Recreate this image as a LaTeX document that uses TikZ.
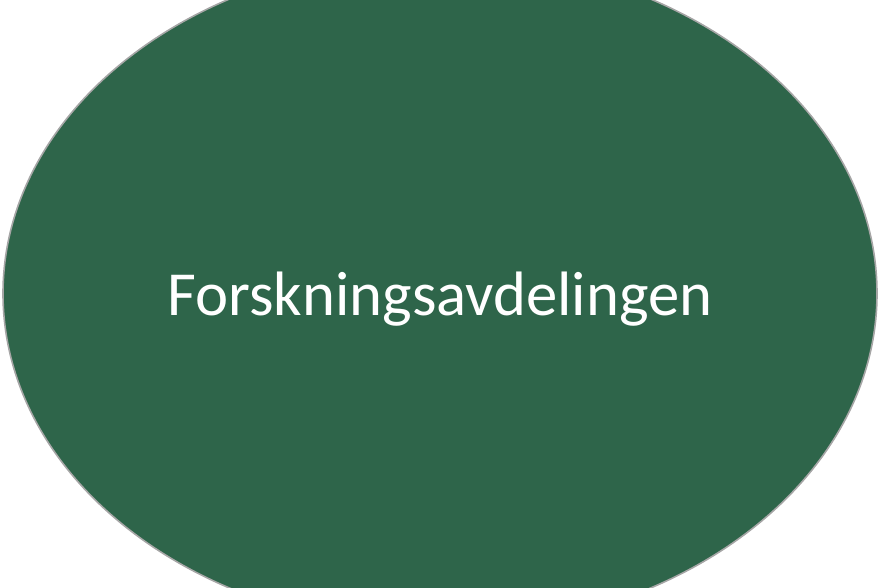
\documentclass[tikz,border=0pt]{standalone}
\usepackage{fontspec}
\setmainfont{Carlito}
\usetikzlibrary{shapes.geometric}

\definecolor{deptgreen}{HTML}{2E654A}
\definecolor{rimgrey}{HTML}{A6A6A6}

\begin{document}
\begin{tikzpicture}[x=1pt,y=1pt,
    dept/.style={draw=rimgrey, line width=1.6pt, fill=deptgreen, ellipse,
                 inner sep=0pt, text=white, font=\fontsize{62.7}{74}\selectfont}]

                \def \w {880}
                \def \h {587}

                \useasboundingbox (0,0) rectangle (\w,\h);

                \node[dept, minimum width=874pt, minimum height=672pt, text depth=0pt] at (440,293.5) (forsk) {};
                \node[text=white, font=\fontsize{62.7}{74}\selectfont, anchor=base] at ([yshift=-22]forsk.center) (forsklabel) {Forskningsavdelingen};

            \end{tikzpicture}
\end{document}
